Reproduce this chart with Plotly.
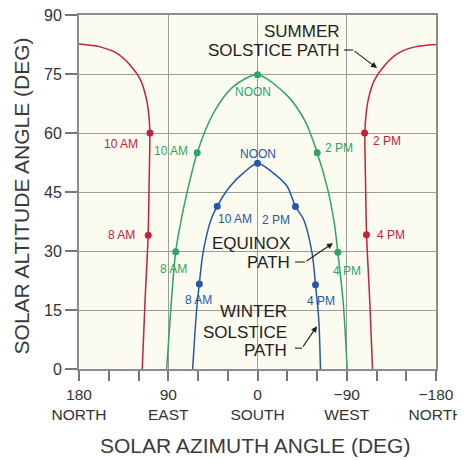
import plotly.graph_objects as go

# sun paths: azimuth (deg, + = east) and altitude (deg)
summer_left_az = [116.2, 113.5, 110.3, 109.3, 108.6, 109.4, 112.0, 118.0, 128.6, 142.0, 158.8, 180.0]
summer_left_alt = [0.0, 16.7, 33.8, 47.0, 60.0, 64.0, 68.6, 73.5, 77.3, 80.3, 81.9, 82.6]
summer_right_az = [-116.0, -113.3, -110.0, -109.0, -108.3, -109.2, -111.8, -118.0, -128.6, -142.0, -158.8, -180.0]
summer_right_alt = [0.0, 16.7, 34.1, 47.0, 60.0, 64.0, 68.6, 73.5, 77.3, 80.3, 81.9, 82.5]
summer_pt_az = [110.2, 108.4, -108.0, -109.9]
summer_pt_alt = [34.0, 60.0, 60.0, 34.1]
summer_pt_lbl = ["8 AM", "10 AM", "2 PM", "4 PM"]

equinox_az = [91.6, 87.0, 82.5, 76.5, 69.5, 60.8, 44.6, 24.4, 0.0, -30.0, -48.0, -60.2, -70.5, -77.5, -81.0, -86.5, -90.4]
equinox_alt = [0.0, 16.7, 29.8, 38.5, 46.5, 55.0, 65.0, 71.8, 74.8, 69.5, 63.0, 55.0, 46.0, 37.0, 29.7, 16.7, 0.0]
equinox_pt_az = [82.5, 60.8, 0.0, -60.2, -81.0]
equinox_pt_alt = [29.8, 55.0, 74.8, 55.0, 29.7]
equinox_pt_lbl = ["8 AM", "10 AM", "NOON", "2 PM", "4 PM"]

winter_az = [65.4, 61.4, 58.7, 55.0, 47.0, 40.6, 27.8, 14.4, 0.0, -17.0, -30.0, -38.3, -46.7, -55.1, -58.5, -61.8, -63.5]
winter_alt = [0.0, 15.0, 21.6, 29.4, 37.9, 41.4, 46.4, 49.8, 52.3, 49.6, 46.4, 41.3, 37.9, 29.4, 21.4, 12.5, 0.0]
winter_pt_az = [58.7, 40.6, 0.0, -38.3, -58.5]
winter_pt_alt = [21.6, 41.4, 52.3, 41.3, 21.4]
winter_pt_lbl = ["8 AM", "10 AM", "NOON", "2 PM", "4 PM"]

x_tickvals = [180, 90, 0, -90, -180]
x_ticktext = ["180<br>NORTH", "90<br>EAST", "0<br>SOUTH", "\u221290<br>WEST", "\u2212180<br>NORTH"]

RED = "#c4213b"
GREEN = "#2ea564"
BLUE = "#2558a8"
FONT = "Liberation Sans, Arial, sans-serif"

# label placement next to each marker: (xanchor, xshift, yshift) in px
summer_lbl_pos = [("right", -11, 0), ("right", -10, -11), ("left", 6, -8), ("left", 9, 0)]
equinox_lbl_pos = [("center", -2, -17), ("right", -7, 2), ("center", -5, -17), ("left", 6, 5), ("center", 9, -19)]
winter_lbl_pos = [("center", -1, -16), ("left", -1, -13), ("center", 0, 9), ("right", -3, -13), ("center", 5, -16)]

fig = go.Figure()

def add_path(az, alt, color):
    fig.add_trace(go.Scatter(x=az, y=alt, mode="lines",
                             line=dict(color=color, width=1.5, shape="spline", smoothing=0.8),
                             hoverinfo="skip"))

def add_points(az, alt, labels, positions, color):
    fig.add_trace(go.Scatter(x=az, y=alt, mode="markers", marker=dict(color=color, size=7),
                             text=labels, hovertemplate="%{text}<br>az %{x}, alt %{y}<extra></extra>"))
    for a, h, lbl, (anchor, dx, dy) in zip(az, alt, labels, positions):
        fig.add_annotation(x=a, y=h, text=lbl, showarrow=False, xanchor=anchor, yanchor="middle",
                           xshift=dx, yshift=dy, font=dict(family=FONT, size=12, color=color))

add_path(summer_left_az, summer_left_alt, RED)
add_path(summer_right_az, summer_right_alt, RED)
add_path(equinox_az, equinox_alt, GREEN)
add_path(winter_az, winter_alt, BLUE)
add_points(summer_pt_az, summer_pt_alt, summer_pt_lbl, summer_lbl_pos, RED)
add_points(equinox_pt_az, equinox_pt_alt, equinox_pt_lbl, equinox_lbl_pos, GREEN)
add_points(winter_pt_az, winter_pt_alt, winter_pt_lbl, winter_lbl_pos, BLUE)

# callout labels: lines of text (right edge az, altitude), leader and arrow head
callouts = [
    (["SUMMER", "SOLSTICE PATH"], -85.2, [85.9, 81.1], [(-87.2, 81.1), (-96.3, 81.1)], (-120.5, 76.5)),
    (["EQUINOX", "PATH"], -34.8, [32.0, 27.2], [(-37.8, 27.2), (-47.9, 27.2)], (-76.1, 32.0)),
    (["WINTER", "SOLSTICE", "PATH"], -31.8, [14.5, 9.4, 4.8], [(-37.8, 5.3), (-44.9, 5.3)], (-60.0, 10.9)),
]
for lines, x_right, ys, leader, head in callouts:
    for txt, y in zip(lines, ys):
        fig.add_annotation(x=x_right, y=y, text=txt, showarrow=False, xanchor="right", yanchor="middle",
                           font=dict(family=FONT, size=17, color="#1e1e1e"))
    fig.add_trace(go.Scatter(x=[p[0] for p in leader], y=[p[1] for p in leader], mode="lines",
                             line=dict(color="#1e1e1e", width=1.1), hoverinfo="skip"))
    fig.add_annotation(x=head[0], y=head[1], ax=leader[-1][0], ay=leader[-1][1], axref="x", ayref="y",
                       text="", showarrow=True, arrowhead=2, arrowsize=1.1, arrowwidth=1.1,
                       arrowcolor="#1e1e1e", standoff=0)

fig.add_annotation(text="SOLAR AZIMUTH ANGLE (DEG)", xref="paper", yref="paper", x=0.493, y=-0.215,
                   showarrow=False, xanchor="center", yanchor="middle",
                   font=dict(family=FONT, size=21, color="#3a3a3a"))
fig.add_annotation(text="SOLAR ALTITUDE ANGLE (DEG)", xref="paper", yref="paper", x=-0.16, y=0.49,
                   textangle=-90, showarrow=False, xanchor="center", yanchor="middle",
                   font=dict(family=FONT, size=21, color="#3a3a3a"))

fig.update_xaxes(
    range=[180, -180], tickmode="array", tickvals=x_tickvals, ticktext=x_ticktext,
    ticks="outside", ticklen=10, tickcolor="#777", tickwidth=1.5,
    minor=dict(dtick=30, tick0=0, ticks="outside", ticklen=10, tickcolor="#777", tickwidth=1.5, showgrid=False),
    showgrid=True, gridcolor="#9c9c9c", gridwidth=1.3, zeroline=False,
    showline=True, linecolor="#8c8c8c", linewidth=2, mirror=True, automargin=False,
    ticklabeloverflow="allow",
    tickfont=dict(family=FONT, size=15.5, color="#333"),
)
fig.update_yaxes(
    range=[0, 90], tickmode="linear", tick0=0, dtick=15,
    ticks="outside", ticklen=12, tickcolor="#777", tickwidth=1.5,
    showgrid=True, gridcolor="#9c9c9c", gridwidth=1.3, zeroline=False,
    showline=True, linecolor="#8c8c8c", linewidth=2, mirror=True, automargin=False,
    ticklabeloverflow="allow",
    tickfont=dict(family=FONT, size=16, color="#333"),
)
# the page body adds an 8 px margin, so the figure is 8 px smaller and offset
fig.update_layout(
    width=457, height=452,
    margin=dict(l=71, r=29, t=7, b=91),
    paper_bgcolor="white", plot_bgcolor="#fcfbf0",
    showlegend=False,
)

fig.write_html("out.html")
